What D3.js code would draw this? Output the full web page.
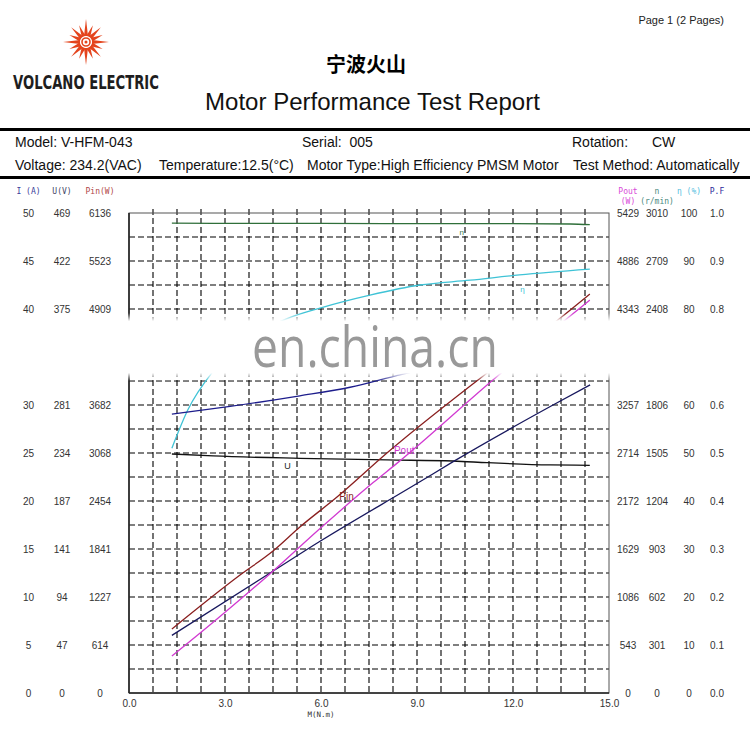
<!DOCTYPE html>
<html><head><meta charset="utf-8">
<script src="https://cdn.jsdelivr.net/npm/d3@7"></script>
<style>body{margin:0;background:#fff}svg{display:block}</style>
</head><body><svg id="c" width="750" height="729"></svg>
<script>
// ---------- data ----------
const torqueTicks = [0, 3, 6, 9, 12, 15];
const gridStepM = 0.75, gridStepI = 2.5;
const labelRowsI = [0, 5, 10, 15, 20, 25, 30, 40, 45, 50];
const iLabels = ["0","5","10","15","20","25","30","40","45","50"];
const uLabels = ["0","47","94","141","187","234","281","375","422","469"];
const pinLabels = ["0","614","1227","1841","2454","3068","3682","4909","5523","6136"];
const poutLabels = ["0","543","1086","1629","2172","2714","3257","4343","4886","5429"];
const nLabels = ["0","301","602","903","1204","1505","1806","2408","2709","3010"];
const effLabels = ["0","10","20","30","40","50","60","80","90","100"];
const pfLabels = ["0.0","0.1","0.2","0.3","0.4","0.5","0.6","0.8","0.9","1.0"];

const nTorque = [1.34, 4.0, 8.0, 12.0, 13.8, 14.4];
const nVals   = [2946, 2945, 2944, 2943, 2941, 2937];
const effTorque = [1.34, 1.84, 2.59, 3.2, 4.0, 4.94, 5.97, 7.53, 9.09, 10.66, 12.2, 14.4];
const effVals   = [51, 59, 66.7, 71, 75, 78, 80.2, 82.9, 85, 86, 87.1, 88.3];
const pfTorque = [1.34, 3.16, 5.34, 6.91, 8.53, 10.0, 12.0, 14.4];
const pfVals   = [0.581, 0.597, 0.619, 0.637, 0.664, 0.684, 0.700, 0.714];
const uTorque = [1.34, 2.63, 5.34, 8.06, 10.13, 11.19, 13.16, 14.4];
const uVals   = [233.5, 231.6, 229.3, 227.7, 226.7, 225.0, 222.8, 222.5];
const iTorque = [1.34, 4.41, 5.97, 9.09, 10.13, 13.25, 14.41];
const iVals   = [6.0, 12.5, 15.8, 22.0, 24.1, 30.0, 32.1];
const pinTorque = [1.34, 3.47, 4.5, 5.34, 6.5, 8.06, 11.19, 13.4, 14.4];
const pinVals   = [818, 1508, 1815, 2122, 2505, 3068, 4091, 4768, 5100];
const poutTorque = [1.34, 2.63, 4.41, 5.97, 7.63, 8.38, 11.5, 13.4, 14.4];
const poutVals   = [418, 800, 1350, 1860, 2380, 2600, 3580, 4150, 4445];

// ---------- chart ----------
const svg = d3.select("#c");
svg.append("rect").attr("width",750).attr("height",729).attr("fill","#fff");

const x = d3.scaleLinear([0,15],[129,609]);
const yI = d3.scaleLinear([0,50],[693,213]);
const yU = d3.scaleLinear([0,469],[693,213]);
const yPin = d3.scaleLinear([0,6136],[693,213]);
const yPout = d3.scaleLinear([0,5429],[693,213]);
const yN = d3.scaleLinear([0,3010],[693,213]);
const yEff = d3.scaleLinear([0,100],[693,213]);
const yPF = d3.scaleLinear([0,1],[693,213]);

const SANS = "'Liberation Sans', Arial, sans-serif";
function fitText(t, x0, y0, w, fs, family, color, weight){
  const g = svg.append("g");
  const el = g.append("text").attr("x",0).attr("y",0).attr("font-family",family)
    .attr("font-size",fs).attr("fill",color).attr("font-weight",weight||"normal").text(t);
  const len = el.node().getComputedTextLength() || w;
  g.attr("transform",`translate(${x0},${y0}) scale(${w/len},1)`);
  return el;
}
function plainText(t, x0, y0, fs, family, color){
  return svg.append("text").attr("x",x0).attr("y",y0).attr("font-family",family)
    .attr("font-size",fs).attr("fill",color).text(t);
}

// header
svg.append("text").attr("x",724).attr("y",24).attr("text-anchor","end")
  .attr("font-family",SANS).attr("font-size",11).attr("fill","#222").text("Page 1 (2 Pages)");

// logo
const logo = svg.append("g").attr("transform","translate(86,42)").attr("fill","#e4441d");
d3.range(16).forEach(k=>{
  const a = k*Math.PI/8;
  const r1 = 6, r2 = (k%4===0)?23:(k%2===0?21:18);
  const w = 2.0;
  const c=Math.cos(a), s=Math.sin(a);
  const p = [[r1*c - w*s, r1*s + w*c],[r2*c, r2*s],[r1*c + w*s, r1*s - w*c]];
  logo.append("path").attr("d","M"+p.map(q=>q.join(",")).join("L")+"Z");
});
logo.append("circle").attr("r",4).attr("fill","none").attr("stroke","#e4441d").attr("stroke-width",1.6);
logo.append("circle").attr("r",1.5);
fitText("VOLCANO ELECTRIC", 13, 89, 146, 19, "'Liberation Sans Narrow','DejaVu Sans Condensed',sans-serif", "#1e1e1e", "bold");

svg.append("text").attr("x",366).attr("y",72).attr("text-anchor","middle")
  .attr("font-family","'Noto Sans CJK SC',sans-serif").attr("font-weight","bold").attr("font-size",20).attr("fill","#000").text("宁波火山");
fitText("Motor Performance Test Report", 205, 110, 335, 24, SANS, "#111");

svg.append("rect").attr("x",0).attr("y",128).attr("width",750).attr("height",3).attr("fill","#000");
svg.append("rect").attr("x",0).attr("y",176).attr("width",750).attr("height",3).attr("fill","#000");

const info = [
  {t:"Model: V-HFM-043", x:15, y:147},
  {t:"Serial:  005", x:302, y:147},
  {t:"Rotation:", x:572, y:147},
  {t:"CW", x:652, y:147},
  {t:"Voltage: 234.2(VAC)", x:15, y:170},
  {t:"Temperature:12.5(°C)", x:159, y:170},
  {t:"Motor Type:High Efficiency PMSM Motor", x:307, y:170},
  {t:"Test Method: Automatically", x:573, y:170}
];
info.forEach(d=>plainText(d.t, d.x, d.y, 14, SANS, "#111").attr("xml:space","preserve").style("white-space","pre"));

// grid
const grid = svg.append("g").attr("stroke","#000").attr("stroke-width",1.1).attr("stroke-dasharray","6,3");
d3.range(1,20).forEach(i=>{
  grid.append("line").attr("x1",x(i*gridStepM)).attr("x2",x(i*gridStepM)).attr("y1",yI(50)-4).attr("y2",yI(0));
  grid.append("line").attr("x1",x(0)).attr("x2",x(15)).attr("y1",yI(i*gridStepI)).attr("y2",yI(i*gridStepI));
});
svg.append("rect").attr("x",x(0)).attr("y",yI(50)).attr("width",x(15)-x(0)).attr("height",yI(0)-yI(50))
  .attr("fill","none").attr("stroke","#555").attr("stroke-width",1);
svg.append("line").attr("x1",x(0)).attr("x2",x(0)).attr("y1",yI(50)).attr("y2",yI(0)).attr("stroke","#222").attr("stroke-width",1.6);
svg.append("line").attr("x1",x(0)).attr("x2",x(15)).attr("y1",yI(0)).attr("y2",yI(0)).attr("stroke","#222").attr("stroke-width",1.6);

// series lines
const series = [
  {m:nTorque, v:nVals, y:yN, c:"#2f6f3a"},
  {m:effTorque, v:effVals, y:yEff, c:"#3fc3d6"},
  {m:pfTorque, v:pfVals, y:yPF, c:"#1d1d8c"},
  {m:uTorque, v:uVals, y:yU, c:"#111"},
  {m:iTorque, v:iVals, y:yI, c:"#18185e"},
  {m:pinTorque, v:pinVals, y:yPin, c:"#8a1f1f"},
  {m:poutTorque, v:poutVals, y:yPout, c:"#d13ad1"}
];
series.forEach(s=>{
  const pts = s.m.map((m,i)=>[m,s.v[i]]);
  svg.append("path").attr("d", d3.line().x(d=>x(d[0])).y(d=>s.y(d[1])).curve(d3.curveMonotoneX)(pts))
    .attr("fill","none").attr("stroke",s.c).attr("stroke-width",1.3);
});

// curve labels
const small = [
  {t:"n", x:x(10.4), y:yN(2870), c:"#3a7a4a", s:8},
  {t:"η", x:x(12.3), y:yEff(83.5), c:"#3fc3d6", s:8},
  {t:"U", x:x(4.95), y:yU(219), c:"#222", s:9},
  {t:"Pin", x:x(6.8), y:yPin(2470), c:"#8a1f1f", s:10},
  {t:"Pout", x:x(8.6), y:yPout(2700), c:"#d13ad1", s:10},
  {t:"I", x:x(3.18), y:yI(9.3), c:"#5a2a6a", s:9}
];
small.forEach(d=>svg.append("text").attr("x",d.x).attr("y",d.y).attr("text-anchor","middle")
  .attr("font-family",SANS).attr("font-size",d.s).attr("fill",d.c).text(d.t));

// left / right tick label columns
const NUM = SANS;
const cols = [
  {labels:iLabels, x:28.5, hdr:"I (A)", c:"#3b3b9a"},
  {labels:uLabels, x:62, hdr:"U(V)", c:"#444466"},
  {labels:pinLabels, x:100, hdr:"Pin(W)", c:"#b04848"},
  {labels:poutLabels, x:628, hdr:"Pout", hdr2:"(W)", c:"#d84ad8"},
  {labels:nLabels, x:657, hdr:"n", hdr2:"(r/min)", c:"#4a8a80"},
  {labels:effLabels, x:689, hdr:"η (%)", c:"#55c0e0"},
  {labels:pfLabels, x:717, hdr:"P.F", c:"#2a2a9a"}
];
cols.forEach(col=>{
  labelRowsI.forEach((v,i)=>{
    svg.append("text").attr("x",col.x).attr("y",yI(v)+4).attr("text-anchor","middle")
      .attr("font-family",NUM).attr("font-size",10).attr("fill","#333").text(col.labels[i]);
  });
  svg.append("text").attr("x",col.x).attr("y",194).attr("text-anchor","middle")
    .attr("font-family","'DejaVu Sans Mono',monospace").attr("font-size",8).attr("fill",col.c).text(col.hdr);
  if(col.hdr2) svg.append("text").attr("x",col.x).attr("y",204).attr("text-anchor","middle")
    .attr("font-family","'DejaVu Sans Mono',monospace").attr("font-size",8).attr("fill",col.c).text(col.hdr2);
});

// x axis labels
const xa = svg.append("g").attr("transform",`translate(0,${yI(0)})`)
  .call(d3.axisBottom(x).tickValues(torqueTicks).tickFormat(d3.format(".1f")).tickSize(0).tickPadding(7));
xa.select(".domain").remove();
xa.selectAll("text").attr("font-family",NUM).attr("font-size",10).attr("fill","#333");
svg.append("text").attr("x",x(6)).attr("y",717).attr("text-anchor","middle")
  .attr("font-family","'DejaVu Sans Mono',monospace").attr("font-size",7.5).attr("fill","#333").text("M(N.m)");

// watermark band
const defs = svg.append("defs");
const g = defs.append("linearGradient").attr("id","wb").attr("x1",0).attr("x2",0).attr("y1",0).attr("y2",1);
[[0,0],[0.12,1],[0.88,1],[1,0]].forEach(s=>g.append("stop").attr("offset",s[0]).attr("stop-color","#fff").attr("stop-opacity",s[1]));
svg.append("rect").attr("x",0).attr("y",313).attr("width",750).attr("height",68).attr("fill","url(#wb)");
fitText("en.china.cn", 252, 367, 246, 56, "'Open Sans',sans-serif", "#999");
</script></body></html>
